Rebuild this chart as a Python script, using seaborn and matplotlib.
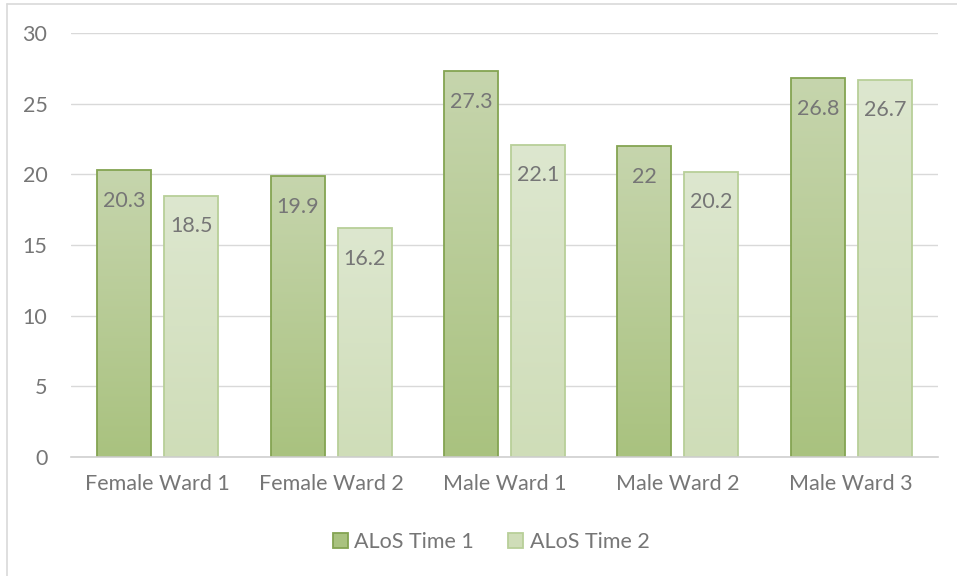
import numpy as np
import pandas as pd
import matplotlib
matplotlib.use("Agg")
import matplotlib.pyplot as plt
from matplotlib.colors import LinearSegmentedColormap
from matplotlib.patches import Patch
from matplotlib.lines import Line2D
import seaborn as sns

categories = ["Female Ward 1", "Female Ward 2", "Male Ward 1", "Male Ward 2", "Male Ward 3"]
series_names = ["ALoS Time 1", "ALoS Time 2"]
time1 = [20.3, 19.9, 27.3, 22, 26.8]
time2 = [18.5, 16.2, 22.1, 20.2, 26.7]
value_labels1 = ["20.3", "19.9", "27.3", "22", "26.8"]
value_labels2 = ["18.5", "16.2", "22.1", "20.2", "26.7"]

df = pd.DataFrame({
    "ward": categories * 2,
    "series": [series_names[0]] * 5 + [series_names[1]] * 5,
    "value": time1 + time2,
})

sns.set_theme(style="white")
plt.rcParams["font.family"] = ["Lato", "DejaVu Sans"]

FS = 15.5
TXT = "#767676"

fig = plt.figure(figsize=(9.57, 5.76), dpi=100)
ax = fig.add_axes([71 / 957, 1 - 457 / 576, (938 - 71) / 957, (457 - 33) / 576])

edge_cols = {series_names[0]: "#84a452", series_names[1]: "#b8cf98"}
grad = {
    series_names[0]: ("#c6d5ad", "#a9c27f"),
    series_names[1]: ("#dde7cf", "#cfddb8"),
}

sns.barplot(data=df, x="ward", y="value", hue="series", order=categories,
            hue_order=series_names, width=0.772, gap=0.194, ax=ax,
            palette=["#b5ca8e", "#d5e2c2"], legend=False, saturation=1)

ax.set_ylim(0, 30)
ax.set_xlim(-0.5, 4.5)
ax.set_yticks([0, 5, 10, 15, 20, 25, 30])
ax.yaxis.grid(True, color="#d9d9d9", linewidth=1.0)
ax.set_axisbelow(True)
for s in ["left", "right", "top"]:
    ax.spines[s].set_visible(False)
ax.spines["bottom"].set_color("#d0d0d0")
ax.spines["bottom"].set_linewidth(1.2)
ax.set_xlabel("")
ax.set_ylabel("")
ax.tick_params(axis="both", length=0, colors=TXT, labelsize=FS)
ax.tick_params(axis="y", pad=17)
ax.tick_params(axis="x", pad=12)

patches = [p for p in ax.patches]
n = len(categories)
for i, p in enumerate(patches):
    sname = series_names[i // n]
    top_c, bot_c = grad[sname]
    cmap = LinearSegmentedColormap.from_list("g", [bot_c, top_c])
    x0, y0 = p.get_x(), p.get_y()
    w, h = p.get_width(), p.get_height()
    img = ax.imshow(np.linspace(0, 1, 256).reshape(-1, 1), cmap=cmap,
                    extent=[x0, x0 + w, y0, y0 + h], origin="lower",
                    aspect="auto", zorder=p.get_zorder())
    img.set_clip_path(p)
    p.set_facecolor("none")
    p.set_edgecolor(edge_cols[sname])
    p.set_linewidth(1.3)
    p.set_zorder(p.get_zorder() + 0.1)
    labels = value_labels1 if i < n else value_labels2
    ax.annotate(labels[i % n], (x0 + w / 2, y0 + h), xytext=(0, -15),
                textcoords="offset points", ha="center", va="top",
                color=TXT, fontsize=FS, zorder=5)
ax.set_xlim(-0.5, 4.5)
ax.set_ylim(0, 30)

handles = [Patch(facecolor=grad[s][1], edgecolor=edge_cols[s], linewidth=1.3) for s in series_names]
fig.legend(handles, series_names, loc="center", bbox_to_anchor=(491 / 957, 1 - 542 / 576),
           ncol=2, frameon=False, fontsize=FS, labelcolor=TXT,
           handlelength=0.7, handleheight=0.7, handletextpad=0.3, columnspacing=1.6)

fig.add_artist(Line2D([7 / 957, 7 / 957], [0, 1 - 4 / 576], transform=fig.transFigure,
                      color="#d9d9d9", linewidth=1.2))
fig.add_artist(Line2D([7 / 957, 1], [1 - 4 / 576, 1 - 4 / 576], transform=fig.transFigure,
                      color="#d9d9d9", linewidth=1.2))

fig.savefig("out.png", dpi=100, facecolor="white")
